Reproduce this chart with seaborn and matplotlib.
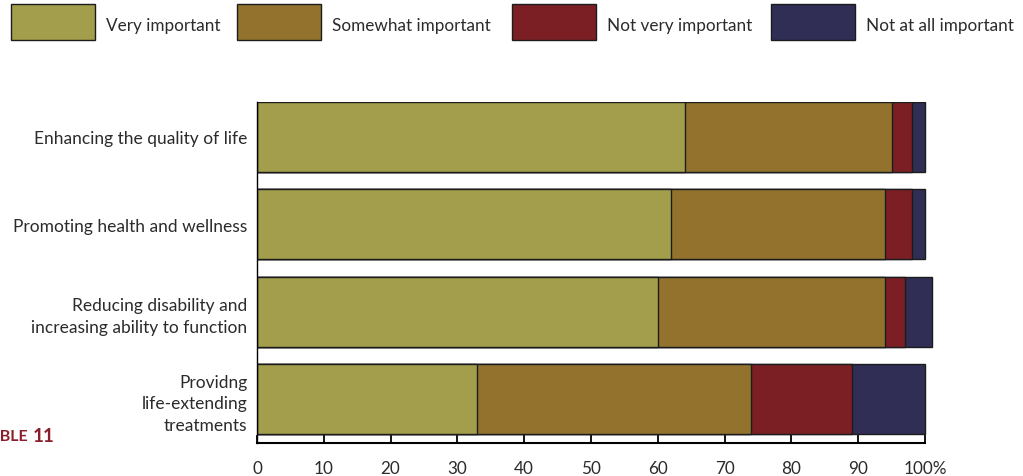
import matplotlib
matplotlib.use("Agg")
import matplotlib.pyplot as plt
from matplotlib.patches import Rectangle
import numpy as np
import pandas as pd
import seaborn as sns

# Survey responses (percent of respondents)
categories = [
    "Enhancing the quality of life",
    "Promoting health and wellness",
    "Reducing disability and\nincreasing ability to function",
    "Providng\nlife-extending\ntreatments",
]
series_names = ["Very important", "Somewhat important", "Not very important", "Not at all important"]
very_important = [64, 62, 60, 33]
somewhat_important = [31, 32, 34, 41]
not_very_important = [3, 4, 3, 15]
not_at_all_important = [2, 2, 4, 11]
x_ticks = [0, 10, 20, 30, 40, 50, 60, 70, 80, 90, 100]
x_tick_labels = ["0", "10", "20", "30", "40", "50", "60", "70", "80", "90", "100%"]

colors = ["#A39E4B", "#93722E", "#7B1F25", "#312E55"]
edge = "#1c1c1c"
text_color = "#2b2b2b"

sns.set_theme(style="white")
plt.rcParams["font.family"] = ["Lato", "DejaVu Sans"]

W, H = 1023, 477
fig = plt.figure(figsize=(W / 100, H / 100), dpi=100)
ax = fig.add_axes([257 / W, 1 - 444 / H, (935 - 257) / W, (444 - 103) / H])

series = [very_important, somewhat_important, not_very_important, not_at_all_important]
cum = np.cumsum(np.array(series), axis=0)
df = pd.DataFrame({"category": categories})
for name, c in zip(series_names, cum):
    df[name] = c

# Stacked bars: draw the longest cumulative segment first so shorter ones sit on top
for name, color in reversed(list(zip(series_names, colors))):
    sns.barplot(data=df, x=name, y="category", color=color, orient="h",
                width=0.8, edgecolor=edge, linewidth=1.0, saturation=1, ax=ax)

ax.set_xlim(0, 101.5)
ax.set_ylim(3.4 + 9 / 87.4, -0.4)
ax.set_xlabel("")
ax.set_ylabel("")

ax.set_xticks(x_ticks)
ax.set_xticklabels(x_tick_labels)
ax.tick_params(axis="x", direction="in", length=6, width=1.3, color="black",
               pad=12, labelsize=12.3, labelcolor=text_color, bottom=True)
ax.tick_params(axis="y", length=0, pad=7, labelsize=12.5, labelcolor=text_color)
for lbl in ax.get_yticklabels():
    lbl.set_linespacing(1.42)
    lbl.set_horizontalalignment("right")

for s in ["top", "right"]:
    ax.spines[s].set_visible(False)
ax.spines["left"].set_color("black")
ax.spines["left"].set_linewidth(1.0)
ax.spines["bottom"].set_color("black")
ax.spines["bottom"].set_linewidth(1.5)
ax.spines["bottom"].set_bounds(0, 100)

# Legend row across the top
box_x = [11, 237, 512, 771]
for x0, name, color in zip(box_x, series_names, colors):
    fig.add_artist(Rectangle((x0 / W, 1 - 41 / H), 84 / W, 36 / H,
                             transform=fig.transFigure, facecolor=color,
                             edgecolor=edge, linewidth=1.0))
    fig.text((x0 + 95) / W, 1 - 26 / H, name, ha="left", va="center",
             fontsize=12.3, color=text_color)

# Table caption at the lower left, running off the figure edge
fig.text(28 / W, 1 - 437 / H, "TABLE", ha="right", va="center", fontsize=11.5,
         fontweight="bold", color="#8B1E2B")
fig.text(33 / W, 1 - 437 / H, "11", ha="left", va="center", fontsize=13.5,
         fontweight="bold", color="#8B1E2B")

fig.savefig("out.png", dpi=100)
